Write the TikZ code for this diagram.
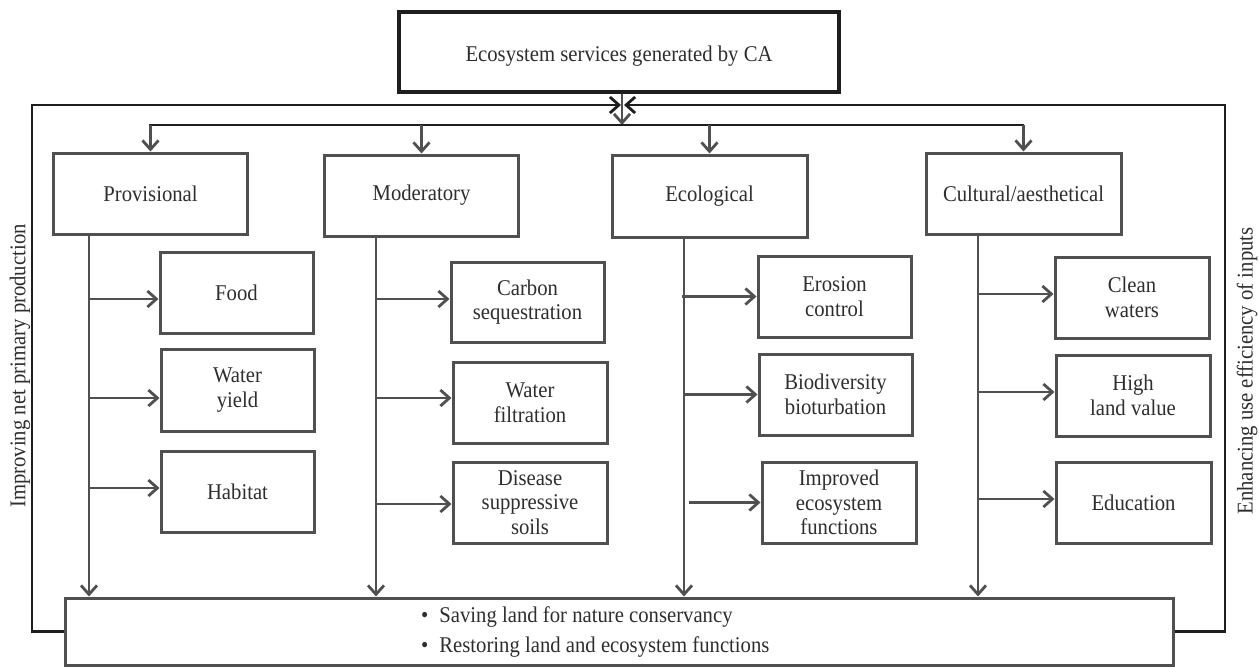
\documentclass[tikz,border=0pt]{standalone}
\usepackage{fontspec}
\setmainfont{Liberation Serif}[FakeStretch=0.92]
\usetikzlibrary{arrows.meta}
\definecolor{boxgray}{HTML}{505050}
\definecolor{txt}{HTML}{2E2E2E}
\definecolor{loopblack}{HTML}{1E1E1E}
\begin{document}
\begin{tikzpicture}[x=1pt,y=-1pt,
  every node/.style={font=\fontsize{22.5}{24.5}\selectfont, text=txt},
  box/.style={draw=boxgray, line width=3pt, align=center, inner sep=0pt, fill=white},
  topbox/.style={box, draw=loopblack, line width=3.5pt},
  kid/.style={box, minimum width=153pt, minimum height=81pt},
  cat/.style={box, minimum width=194pt, minimum height=81pt},
  arr/.style={draw=boxgray, line width=2.8pt, -{Straight Barb[length=9pt,width=16pt]}},
  loopline/.style={draw=loopblack, line width=2.8pt},
  looparr/.style={loopline, -{Straight Barb[length=9pt,width=16pt]}},
]
\useasboundingbox (0,0) rectangle (1259,667);
\fill[white] (0,0) rectangle (1259,667);

% top box
\node[topbox, minimum width=440pt, minimum height=80pt] (top) at (619,52) {};
\node (toptext) at (619,56) {Ecosystem services generated by CA};

% categories
\node[cat] (prov) at (150.5,193.5) {Provisional};
\node[cat] (mod)  at (421.5,195.5) {Moderatory};
\node[cat, minimum width=195pt, minimum height=82pt] (eco)  at (709.5,196) {Ecological};
\node[cat, minimum width=195pt] (cult) at (1023.5,193.5) {Cultural/aesthetical};

% children
\node[kid] (food)    at (236.5,292.5) {Food};
\node[kid, minimum height=82pt] (wyield)  at (237.5,390) {Water\\yield};
\node[kid] (habitat) at (237.5,491.5) {Habitat};

\node[kid, minimum height=80pt] (carbon)  at (527.5,302) {Carbon\\sequestration};
\node[kid, minimum width=154pt] (wfilt)   at (530,402.5) {Water\\filtration};
\node[kid, minimum width=154pt] (disease) at (530,502.5) {Disease\\suppressive\\soils};

\node[kid] (erosion)  at (834.5,296.5) {Erosion\\control};
\node[kid] (biodiv)   at (835.5,394.5) {Biodiversity\\bioturbation};
\node[kid, minimum width=154pt] (improved) at (839,502.5) {Improved\\ecosystem\\functions};

\node[kid, minimum width=154pt] (clean) at (1132,297.5) {Clean\\waters};
\node[kid, minimum width=154pt] (high)  at (1133,395.5) {High\\land value};
\node[kid, minimum width=155pt] (edu)   at (1133.5,502.5) {Education};

% bottom box
\node[box, minimum width=1108pt, minimum height=67pt] (bottom) at (619,631.5) {};
\node[anchor=west, align=left, inner sep=0pt, font=\fontsize{22.5}{30}\selectfont] (btext) at (421,632)
  {\textbullet\hspace{11pt}Saving land for nature conservancy\\
   \textbullet\hspace{11pt}Restoring land and ecosystem functions};

% side labels
\node[rotate=90] (lt) at (20,366) {Improving net primary production};
\node[rotate=90] (rt) at (1247,371) {Enhancing use efficiency of inputs};

% coordinates
\coordinate (dj) at (622,125);
\coordinate (lc) at (32,105);
\coordinate (rc) at (1225,105);
\coordinate (ltip) at (621,105);
\coordinate (rtip) at (624,105);
\coordinate (pvt) at (89,234);
\coordinate (mvt) at (376,236);
\coordinate (evt) at (684,237);
\coordinate (cvt) at (978,234);

% outer feedback loop
\draw[looparr] (bottom.west) -| (lc) -- (ltip);
\draw[looparr] (bottom.east) -| (rc) -- (rtip);

% from top to distribution line
\draw[arr] ([xshift=3pt]top.south) -- (dj);
\draw[loopline] ([xshift=-1.5pt]prov.north |- dj) -- (cult.north |- dj);
\foreach \n in {prov,mod,eco,cult}{
  \draw[arr] (\n.north |- dj) -- (\n.north);
}

% trunks to the bottom box
\draw[arr] (pvt) -- (pvt |- bottom.north);
\draw[arr] (mvt) -- (mvt |- bottom.north);
\draw[arr] (evt) -- (evt |- bottom.north);
\draw[arr] (cvt) -- (cvt |- bottom.north);

% branches
\draw[arr] (pvt |- 0,299) -- ([yshift=-6.5pt]food.west);
\draw[arr] (pvt |- 0,398) -- ([yshift=-8pt]wyield.west);
\draw[arr] (pvt |- 0,488) -- ([yshift=3.5pt]habitat.west);

\draw[arr] (mvt |- 0,299) -- ([yshift=3pt]carbon.west);
\draw[arr] (mvt |- 0,398) -- ([yshift=4.5pt]wfilt.west);
\draw[arr] (mvt |- 0,504) -- ([yshift=-1.5pt]disease.west);

\draw[arr] ([xshift=-2pt]evt |- erosion.west) -- (erosion.west);
\draw[arr] (evt |- biodiv.west) -- (biodiv.west);
\draw[arr] ([xshift=5pt]evt |- improved.west) -- (improved.west);

\draw[arr] (cvt |- 0,294) -- ([yshift=3.5pt]clean.west);
\draw[arr] (cvt |- 0,392) -- ([yshift=3.5pt]high.west);
\draw[arr] (cvt |- 0,499) -- ([yshift=3.5pt]edu.west);
\end{tikzpicture}
\end{document}
